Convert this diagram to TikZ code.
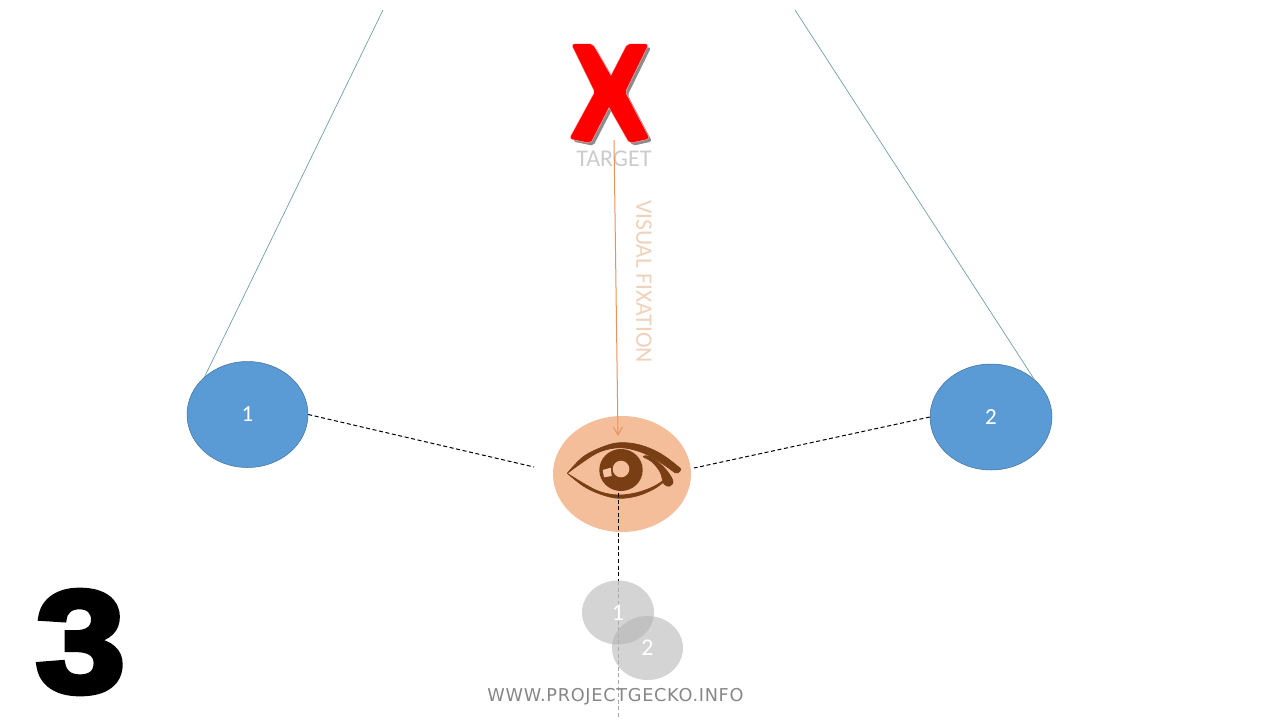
\documentclass[tikz,border=0pt]{standalone}
\usepackage{fontspec}
\setmainfont{Carlito}
\newfontfamily\webfont[LetterSpace=4]{DejaVu Sans}
\newfontfamily\numfont[FakeBold=4]{Liberation Sans Bold}
\usetikzlibrary{shapes.geometric,arrows.meta}
\definecolor{blueFill}{HTML}{5B9BD5}
\definecolor{blueEdge}{HTML}{41719C}
\definecolor{peach}{HTML}{F4BE9B}
\definecolor{brownEye}{HTML}{7A3E14}
\definecolor{arrowOrange}{HTML}{E8935A}
\definecolor{labelPeach}{HTML}{EFD2BA}
\definecolor{tealLine}{HTML}{6FA0A8}
\def\targetX{(573,45)--(592,45)--(611,78)--(628,45)--(647,45)--(624,92)--(648,138)--(630,142)--(609,105)--(590,142)--(571,138)--(596,92)--cycle}
\tikzset{
  sensor/.style={ellipse,inner sep=0pt,fill=blueFill,draw=blueEdge,line width=.5pt,text=white,font=\fontsize{23}{23}\selectfont},
  ghost/.style={ellipse,inner sep=0pt,fill=black!30,fill opacity=.55,text opacity=1,text=white,font=\fontsize{24}{24}\selectfont},
  sight/.style={black,line width=1pt,dash pattern=on 4pt off 2.6pt},
  ray/.style={tealLine,line width=.7pt},
  eyeink/.style={fill=brownEye,draw=brownEye,line width=.7pt,line join=round},
}
\begin{document}
\begin{tikzpicture}[x=1pt,y=-1pt]
\useasboundingbox[fill=white] (0,0) rectangle (1280,720);
% ---- target X
\fill[black!45,draw=black!45,line width=1.4pt,rounded corners=2pt,xshift=3pt,yshift=-3pt] \targetX;
\draw[red!35!white,line width=3pt,rounded corners=2pt] \targetX;
\fill[red,draw=red,line width=1.8pt,rounded corners=2pt] \targetX;
\node[text=black!20,font=\fontsize{24}{24}\selectfont,inner sep=0pt] (target) at (614,159) {TARGET};
\coordinate (targetEnd) at (614,140);
% ---- eye
\node[ellipse,fill=peach,minimum width=138pt,minimum height=116pt,inner sep=0pt] (eyeball) at (622,474) {};
\coordinate (eyeTop) at (618,436);
\coordinate (eyeBottom) at (618,493);
\coordinate (eyeLeft) at (534,467);
\coordinate (eyeRight) at (694,468);
\fill[brownEye] (621,470) ellipse [x radius=21.7pt,y radius=21pt];
\fill[peach] (621,469) circle (8.3pt);
\fill[peach!90!white] (602.7,470) -- (610.7,467.7) -- (611.7,476) -- (604,477.3) -- cycle;
% brow
\path[eyeink] plot[smooth,tension=.6] coordinates {(567.3,473.3) (583.3,456.7) (603.3,446.7) (620,442.7) (640,445) (660,453.3) (678.3,466.7) (680.5,470) (678,472.7) (675,472.7)}
  -- plot[smooth,tension=.6] coordinates {(675,472.7) (656.7,460) (640,451.7) (620,447.7) (600,451.7) (583.3,461.7) (567.3,473.3)} -- cycle;
% lower lid
\path[eyeink] plot[smooth,tension=.6] coordinates {(567.3,473.3) (583.3,486) (600,494) (618.3,498.3) (636.7,496) (653.3,489.3) (664,481.7)}
  -- plot[smooth,tension=.6] coordinates {(664,480) (653.3,486.7) (636.7,492.7) (618.3,495) (600,491.7) (583.3,483.3) (567.3,473.3)} -- cycle;
% lid corner
\path[eyeink] plot[smooth cycle,tension=.6] coordinates {(650,456.7) (663.3,466.7) (672.7,480) (670,486) (664,484) (660,471.7) (651.7,461.7) (643.3,456.7)};
% ---- pendulum bobs
\node[sensor,minimum width=121pt,minimum height=106pt] (one) at (247.5,414.5) {1};
\node[sensor,minimum width=122pt,minimum height=106pt] (two) at (991,417) {2};
\coordinate (rayL) at (383,10);
\coordinate (rayR) at (795,10);
\draw[ray] (one.north west) -- (rayL);
\draw[ray] (two.north east) -- (rayR);
\draw[sight] (one.east) -- (eyeLeft);
\draw[sight] (two.west) -- (eyeRight);
% ---- visual fixation
\draw[arrowOrange,line width=1pt,-{Straight Barb[length=8pt,width=9pt]}] (targetEnd) -- (eyeTop);
\node[rotate=-90,text=labelPeach,font=\fontsize{23.6}{23.6}\selectfont,inner sep=0pt] (fix) at (644,281.5) {VISUAL FIXATION};
% ---- ghosts
\coordinate (ghostEnd) at (618,718);
\coordinate (goneTop) at (618,581);
\draw[sight] (eyeBottom) -- (goneTop);
\draw[black!35,line width=.8pt,dash pattern=on 4pt off 2.6pt] (goneTop) -- (ghostEnd);
\node[ghost,minimum width=72pt,minimum height=64pt] (gone) at (618,612.5) {1};
\node[ghost,minimum width=71pt,minimum height=64pt] (gtwo) at (647.5,648) {2};
% ---- labels
\node[text=black!47,font=\fontsize{17.7}{17.7}\webfont,inner sep=0pt] (web) at (615.5,697) {WWW.PROJECTGECKO.INFO};
\node[font=\fontsize{145}{145}\numfont,inner sep=0pt,xscale=1.11] (num) at (80.5,642) {3};
\end{tikzpicture}
\end{document}
